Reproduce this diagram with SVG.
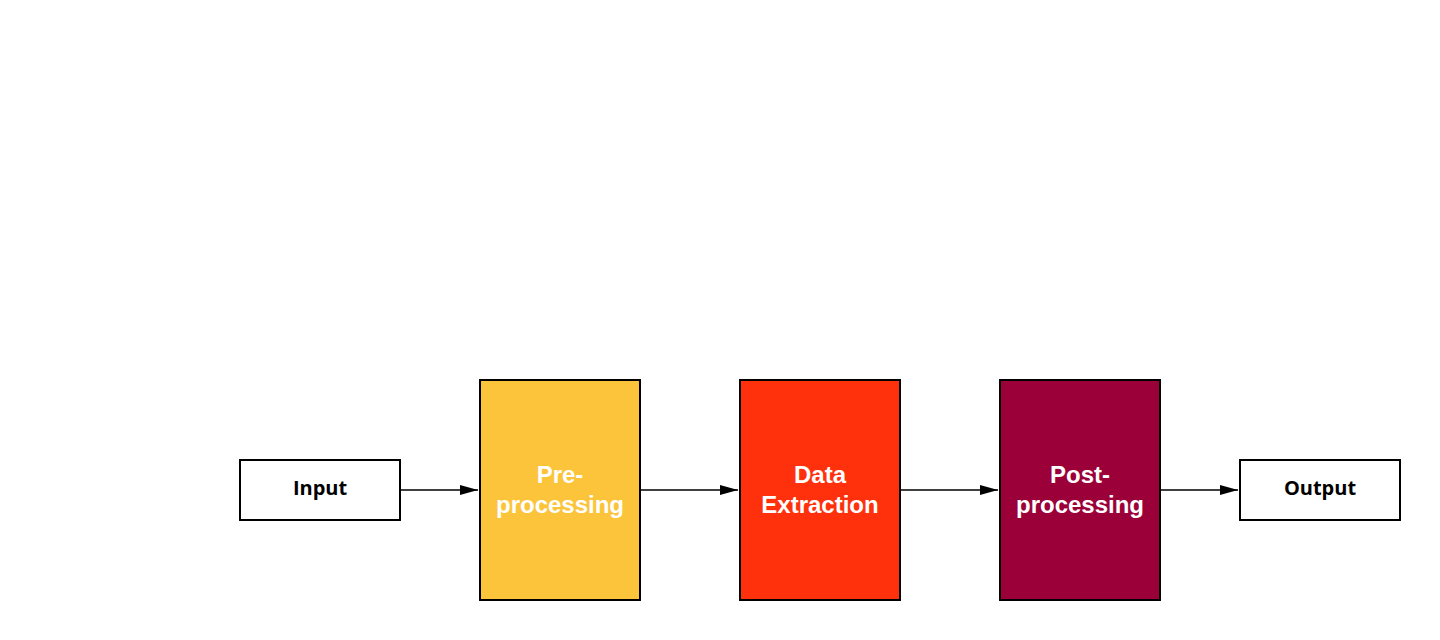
<svg xmlns="http://www.w3.org/2000/svg" width="1440" height="640" viewBox="0 0 1440 640">
<style>
.box{stroke:#000;stroke-width:2}
.io{font-family:"Open Sans","Liberation Sans",sans-serif;font-weight:bold;font-size:20px;fill:#000;text-anchor:middle}
.lbl{font-family:"Liberation Sans",Arial,sans-serif;font-weight:bold;font-size:24px;fill:#fff;text-anchor:middle}
.conn{stroke:#000;stroke-width:1.5;fill:none}
</style>
<defs>
<marker id="arr" viewBox="0 0 18 10" refX="18" refY="5" markerWidth="18" markerHeight="10" markerUnits="userSpaceOnUse" orient="auto">
<path d="M0,0 L18,5 L0,10 z" fill="#000"/>
</marker>
</defs>
<rect width="1440" height="640" fill="#fff"/>
<g id="connectors">
<line class="conn" x1="400" y1="490" x2="478" y2="490" marker-end="url(#arr)"/>
<line class="conn" x1="640" y1="490" x2="738" y2="490" marker-end="url(#arr)"/>
<line class="conn" x1="900" y1="490" x2="998" y2="490" marker-end="url(#arr)"/>
<line class="conn" x1="1160" y1="490" x2="1238" y2="490" marker-end="url(#arr)"/>
</g>
<g id="input">
<rect class="box" x="240" y="460" width="160" height="60" fill="#fff"/>
<text class="io" x="320" y="495">Input</text>
</g>
<g id="preprocessing">
<rect class="box" x="480" y="380" width="160" height="220" fill="#fbc43a"/>
<text class="lbl" x="560" y="483">Pre-</text>
<text class="lbl" x="560" y="513">processing</text>
</g>
<g id="extraction">
<rect class="box" x="740" y="380" width="160" height="220" fill="#ff300c"/>
<text class="lbl" x="820" y="483">Data</text>
<text class="lbl" x="820" y="513">Extraction</text>
</g>
<g id="postprocessing">
<rect class="box" x="1000" y="380" width="160" height="220" fill="#9b0038"/>
<text class="lbl" x="1080" y="483">Post-</text>
<text class="lbl" x="1080" y="513">processing</text>
</g>
<g id="output">
<rect class="box" x="1240" y="460" width="160" height="60" fill="#fff"/>
<text class="io" x="1320" y="495">Output</text>
</g>
</svg>
